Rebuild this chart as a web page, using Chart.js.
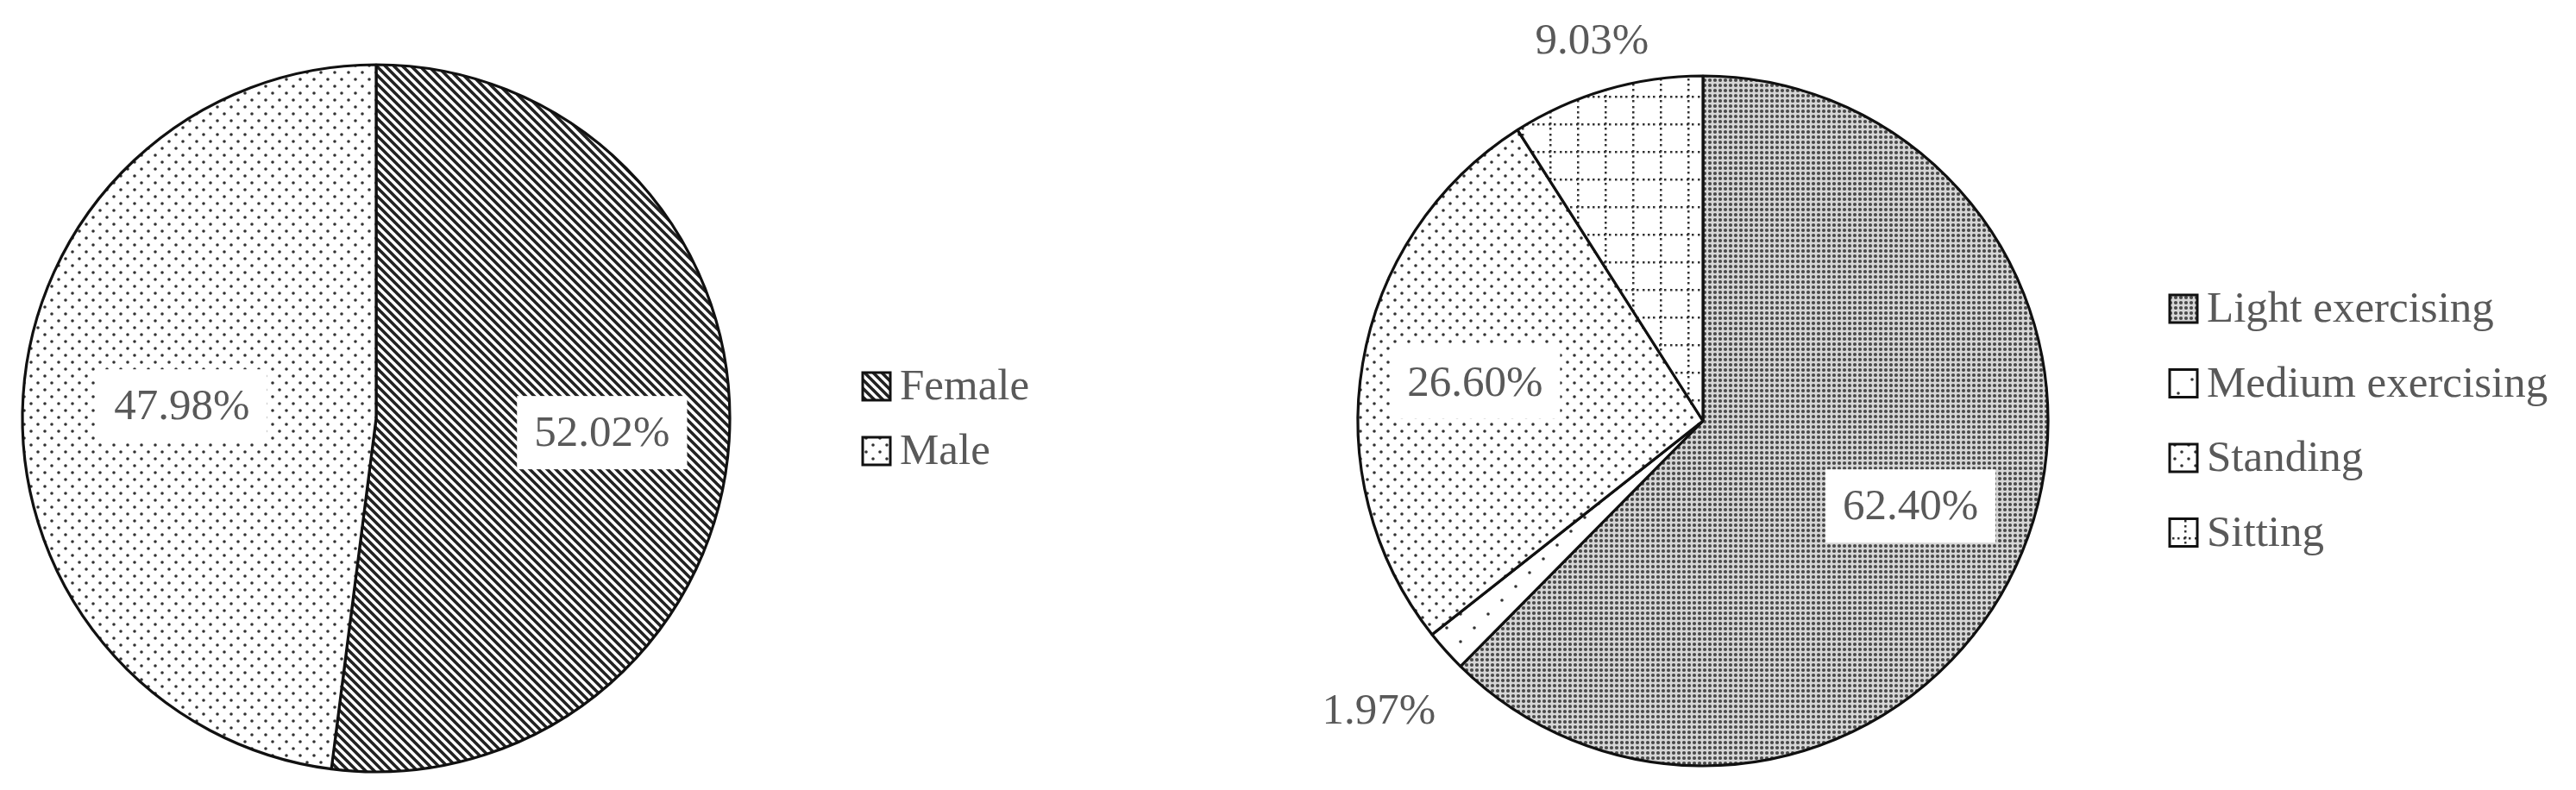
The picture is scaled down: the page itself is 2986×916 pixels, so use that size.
<!DOCTYPE html>
<html>
<head>
<meta charset="utf-8">
<script src="https://cdn.jsdelivr.net/npm/chart.js@4.4.3/dist/chart.umd.min.js"></script>
<style>
  html, body { margin: 0; padding: 0; background: #fff; }
  .wrap { position: absolute; top: 0; width: 1493px; height: 916px; }
  #genderWrap { left: 0; }
  #activityWrap { left: 1493px; }
</style>
</head>
<body>
<div class="wrap" id="genderWrap"><canvas id="genderChart" width="1493" height="916"></canvas></div>
<div class="wrap" id="activityWrap"><canvas id="activityChart" width="1493" height="916"></canvas></div>
<script>
const genderLabels = ['Female', 'Male'];
const genderValues = [52.02, 47.98];

const activityLabels = ['Light exercising', 'Medium exercising', 'Standing', 'Sitting'];
const activityValues = [62.40, 1.97, 26.60, 9.03];

const FONT = '"Liberation Serif", "DejaVu Serif", serif';
const TEXT_COLOR = '#595959';

// small fill textures, like the black & white Excel patterns
function makePattern(size, draw, bg) {
    const c = document.createElement('canvas');
    c.width = size;
    c.height = size;
    const g = c.getContext('2d');
    g.fillStyle = bg || '#fff';
    g.fillRect(0, 0, size, size);
    draw(g, size);
    return g.createPattern(c, 'repeat');
}

function dots(g, pts, r, color) {
    g.fillStyle = color;
    pts.forEach(([x, y]) => {
        g.beginPath();
        g.arc(x, y, r, 0, Math.PI * 2);
        g.fill();
    });
}

const hatch = makePattern(10, (g, s) => {
    g.strokeStyle = '#222';
    g.lineWidth = 3.6;
    g.beginPath();
    for (let i = -1; i <= 1; i++) {
        g.moveTo(i * s - 1, -1);
        g.lineTo(i * s + s + 1, s + 1);
    }
    g.stroke();
});
const sparseDots = makePattern(16, (g) => dots(g, [[4, 4], [12, 12]], 1.8, '#333'));
const denseDots = makePattern(6, (g) => dots(g, [[3, 3]], 2.1, '#4a4a4a'), '#d6d6d6');
const verySparseDots = makePattern(32, (g) => dots(g, [[8, 8], [24, 24]], 1.8, '#333'));
const dottedGrid = makePattern(32, (g) => {
    g.fillStyle = '#333';
    [0, 6, 13, 19, 26].forEach(p => {
        g.fillRect(p + 1, 15, 2.5, 2.5);
        g.fillRect(15, p + 1, 2.5, 2.5);
    });
});

const pieText = {
    id: 'pieText',
    afterDatasetsDraw(chart, args, opts) {
        const ctx = chart.ctx;
        const meta = chart.getDatasetMeta(0);
        const ds = chart.data.datasets[0];
        ctx.save();
        ctx.font = `${opts.size}px ${FONT}`;
        ctx.textBaseline = 'middle';

        meta.data.forEach((arc, i) => {
            const { x, y, startAngle, endAngle, outerRadius } =
                arc.getProps(['x', 'y', 'startAngle', 'endAngle', 'outerRadius'], true);
            const mid = (startAngle + endAngle) / 2;
            const f = opts.radius[i];
            const lx = x + Math.cos(mid) * outerRadius * f;
            const ly = y + Math.sin(mid) * outerRadius * f;
            const text = ds.data[i].toFixed(2) + '%';
            ctx.textAlign = 'center';
            if (f < 1) {
                const w = ctx.measureText(text).width + 40;
                const h = 85;
                ctx.fillStyle = '#fff';
                ctx.fillRect(lx - w / 2, ly - h / 2, w, h);
            }
            ctx.fillStyle = TEXT_COLOR;
            ctx.fillText(text, lx, ly + 2);
        });

        const L = opts.legend;
        chart.data.labels.forEach((label, i) => {
            const cy = L.y + i * L.step;
            ctx.fillStyle = ds.backgroundColor[i];
            ctx.fillRect(L.x, cy - 16, 32, 32);
            ctx.strokeStyle = '#111';
            ctx.lineWidth = 3;
            ctx.strokeRect(L.x, cy - 16, 32, 32);
            ctx.fillStyle = TEXT_COLOR;
            ctx.textAlign = 'left';
            ctx.fillText(label, L.x + 43, cy + 2);
        });
        ctx.restore();
    }
};

function pieChart(canvasId, labels, values, fills, radius, padding, textOpts) {
    return new Chart(document.getElementById(canvasId), {
        type: 'pie',
        data: {
            labels: labels,
            datasets: [{
                data: values,
                backgroundColor: fills,
                borderColor: '#111',
                borderWidth: 3.2,
                radius: radius
            }]
        },
        options: {
            responsive: false,
            animation: false,
            devicePixelRatio: 1,
            events: [],
            layout: { padding: padding },
            plugins: {
                legend: { display: false },
                tooltip: { enabled: false },
                pieText: textOpts
            }
        },
        plugins: [pieText]
    });
}

pieChart('genderChart', genderLabels, genderValues,
    [hatch, sparseDots], 410,
    { left: 0, right: 621, top: 54, bottom: 0 },
    { size: 51, radius: [0.64, 0.55], legend: { x: 1000, y: 448, step: 75 } });

pieChart('activityChart', activityLabels, activityValues,
    [denseDots, verySparseDots, sparseDots, dottedGrid], 400,
    { left: 0, right: 531, top: 60, bottom: 0 },
    { size: 51, radius: [0.65, 1.26, 0.67, 1.15], legend: { x: 1022, y: 358, step: 86.5 } });
</script>
</body>
</html>
